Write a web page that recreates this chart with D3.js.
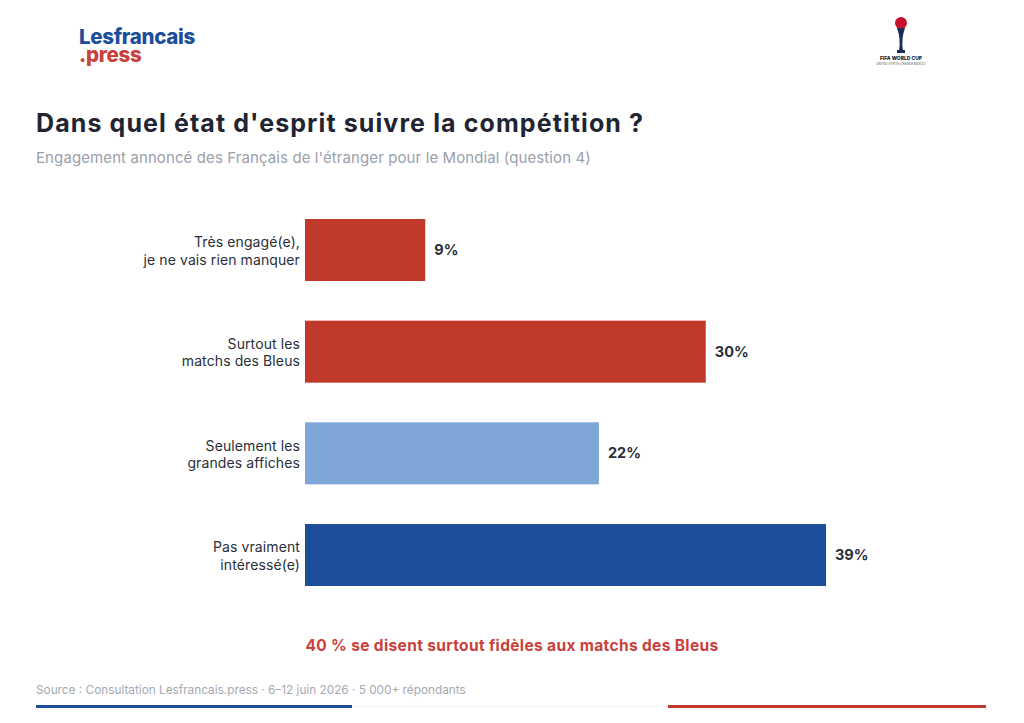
<!DOCTYPE html>
<html>
<head>
<meta charset="utf-8">
<script src="https://cdn.jsdelivr.net/npm/d3@7"></script>
<style>
  body { margin: 0; background: #fff; }
  svg { font-family: Inter, "DejaVu Sans", sans-serif; }
</style>
</head>
<body>
<div class="chart"></div>
<script>
const width = 1024
const height = 723

// data
const categories = [
  ["Très engagé(e),", "je ne vais rien manquer"],
  ["Surtout les", "matchs des Bleus"],
  ["Seulement les", "grandes affiches"],
  ["Pas vraiment", "intéressé(e)"]
]
const values = [9, 30, 22, 39]
const barColors = ['#c0392b', '#c0392b', '#7ea6d8', '#1c4e9c']

const svg = d3.select('.chart')
  .append('svg')
  .attr('width', width)
  .attr('height', height)

// logo, two stacked words
const logo = svg.append('g').attr('class', 'logo')
logo.append('text')
  .attr('x', 79).attr('y', 44)
  .style('font-size', '20.5px').style('font-weight', 800)
  .style('letter-spacing', '-0.3px')
  .attr('fill', '#1c4e9c')
  .text('Lesfrancais')
logo.append('text')
  .attr('x', 79).attr('y', 62)
  .style('font-size', '20.5px').style('font-weight', 800)
  .style('letter-spacing', '-0.3px')
  .attr('fill', '#c9413a')
  .text('.press')

// small world cup badge (top right)
const badge = svg.append('g').attr('transform', 'translate(901, 15)')
badge.append('circle').attr('cx', 0).attr('cy', 8).attr('r', 6).attr('fill', '#c8102e')
badge.append('path')
  .attr('d', 'M-4,13 Q0,24 -2,36 L2,36 Q0,24 4,13 Z')
  .attr('fill', '#1c2c5a')
badge.append('rect').attr('x', -4).attr('y', 35).attr('width', 8).attr('height', 3).attr('fill', '#1c2c5a')
badge.append('text')
  .attr('x', 0).attr('y', 45)
  .attr('text-anchor', 'middle')
  .style('font-size', '5px').style('font-weight', 800)
  .attr('fill', '#222')
  .text('FIFA WORLD CUP')
badge.append('text')
  .attr('x', 0).attr('y', 50)
  .attr('text-anchor', 'middle')
  .style('font-size', '3px')
  .attr('fill', '#555')
  .text('UNITED STATES CANADA MEXICO')

// title
svg.append('text')
  .attr('x', 36).attr('y', 132)
  .style('font-size', '25px').style('font-weight', 700)
  .style('letter-spacing', '1.1px')
  .attr('fill', '#1f2533')
  .text("Dans quel état d'esprit suivre la compétition ?")

svg.append('text')
  .attr('x', 36).attr('y', 163)
  .style('font-size', '15px')
  .style('letter-spacing', '0.1px')
  .attr('fill', '#9aa0ac')
  .text("Engagement annoncé des Français de l'étranger pour le Mondial (question 4)")

// scales
const x = d3.scaleLinear()
  .domain([0, 39])
  .range([305, 826])

const y = d3.scaleBand()
  .domain(d3.range(values.length))
  .range([219, 586])
  .paddingInner(0.39)
  .paddingOuter(0)

const bars = svg.append('g').attr('class', 'bars')

bars.selectAll('rect.bar')
  .data(values)
  .enter().append('rect')
    .attr('class', 'bar')
    .attr('x', x(0))
    .attr('y', (d, i) => y(i))
    .attr('width', d => x(d) - x(0))
    .attr('height', y.bandwidth())
    .attr('fill', (d, i) => barColors[i])

bars.selectAll('text.value')
  .data(values)
  .enter().append('text')
    .attr('class', 'value')
    .attr('x', d => x(d) + 9)
    .attr('y', (d, i) => y(i) + y.bandwidth() / 2 + 5)
    .style('font-size', '14.5px').style('font-weight', 700)
    .attr('fill', '#2a2f3a')
    .text(d => d + '%')

const labels = bars.selectAll('text.cat')
  .data(categories)
  .enter().append('text')
    .attr('class', 'cat')
    .attr('text-anchor', 'end')
    .attr('x', 300)
    .attr('y', (d, i) => y(i) + y.bandwidth() / 2)
    .style('font-size', '14px')
    .style('letter-spacing', '0.1px')
    .attr('fill', '#2a2f3a')

labels.selectAll('tspan')
  .data(d => d)
  .enter().append('tspan')
    .attr('x', 300)
    .attr('dy', (d, i) => i === 0 ? '-0.2em' : '1.25em')
    .text(d => d)

// takeaway
svg.append('text')
  .attr('x', 512).attr('y', 651)
  .attr('text-anchor', 'middle')
  .style('font-size', '15.5px').style('font-weight', 700)
  .style('letter-spacing', '0.35px')
  .attr('fill', '#c9413a')
  .text('40 % se disent surtout fidèles aux matchs des Bleus')

// source
svg.append('text')
  .attr('x', 36).attr('y', 694)
  .style('font-size', '11.8px')
  .attr('fill', '#a4a9b3')
  .text('Source : Consultation Lesfrancais.press · 6–12 juin 2026 · 5 000+ répondants')

// tricolore footer
svg.append('rect').attr('x', 36).attr('y', 705).attr('width', 316).attr('height', 3).attr('fill', '#1c4e9c')
svg.append('rect').attr('x', 352).attr('y', 706).attr('width', 316).attr('height', 1).attr('fill', '#f0f0f0')
svg.append('rect').attr('x', 668).attr('y', 705).attr('width', 318).attr('height', 3).attr('fill', '#c0392b')
</script>
</body>
</html>
